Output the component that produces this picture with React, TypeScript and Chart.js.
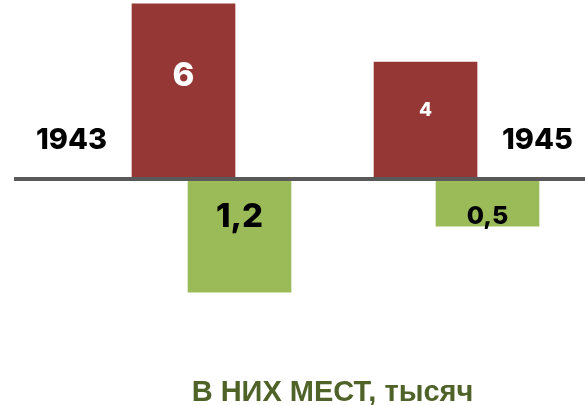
import React, { useEffect, useRef } from 'react';
import { Chart, registerables } from 'chart.js';

Chart.register(...registerables);

// ---- data ----
const years = ['1943', '1945'];
const totalValues = [6, 4];
const placeValues = [1.2, 0.5];
const totalLabels = ['6', '4'];
const placeLabels = ['1,2', '0,5'];
const chartTitle = 'В НИХ МЕСТ, тысяч';

// ---- styles ----
const RED = '#953735';
const GREEN = '#9bbb59';
const AXIS = '#595959';
const TITLE_COLOR = '#4f6228';
const totalFont = [33, 19];
const placeFont = [33, 25];
const DIGIT_FAMILY = 'Inter, "Liberation Sans", Arial, sans-serif';

const annotPlugin = {
  id: 'annot',
  afterDatasetsDraw(chart: any) {
    const ctx = chart.ctx as CanvasRenderingContext2D;
    const area = chart.chartArea;
    const zero = chart.scales.y.getPixelForValue(0);
    ctx.save();
    // baseline axis
    ctx.strokeStyle = AXIS;
    ctx.lineWidth = 4;
    ctx.beginPath();
    ctx.moveTo(area.left, zero);
    ctx.lineTo(area.right, zero);
    ctx.stroke();

    const red = chart.getDatasetMeta(0).data;
    const green = chart.getDatasetMeta(1).data;
    ctx.textBaseline = 'alphabetic';
    ctx.textAlign = 'center';
    red.forEach((bar: any, i: number) => {
      const { x, y, base } = bar.getProps(['x', 'y', 'base'], true);
      const fs = totalFont[i];
      ctx.font = `800 ${fs}px ${DIGIT_FAMILY}`;
      ctx.fillStyle = '#ffffff';
      const cy = y + 0.4 * (base - y);
      ctx.fillText(totalLabels[i], x, cy + 0.36 * fs);
    });
    green.forEach((bar: any, i: number) => {
      const { x, base } = bar.getProps(['x', 'y', 'base'], true);
      const fs = placeFont[i];
      ctx.font = `800 ${fs}px ${DIGIT_FAMILY}`;
      ctx.fillStyle = '#000000';
      const cy = base + 36;
      ctx.fillText(placeLabels[i], x, cy + 0.36 * fs);
    });

    // year labels
    ctx.font = `800 29px ${DIGIT_FAMILY}`;
    ctx.fillStyle = '#000000';
    const b0 = red[0].getProps(['x', 'width'], true);
    const b1 = red[1].getProps(['x', 'width'], true);
    ctx.textAlign = 'right';
    ctx.fillText(years[0], b0.x - b0.width / 2 - 25, zero - 29.5);
    ctx.textAlign = 'left';
    ctx.fillText(years[1], b1.x + b1.width / 2 + 25, zero - 29.5);

    // title
    ctx.font = 'bold 29px "Liberation Sans", Arial, sans-serif';
    ctx.fillStyle = TITLE_COLOR;
    ctx.textAlign = 'center';
    ctx.fillText(chartTitle, chart.width / 2 + 40, chart.height - 4);
    ctx.restore();
  },
};

export default function App() {
  const ref = useRef<HTMLCanvasElement | null>(null);
  useEffect(() => {
    if (!ref.current) return;
    const chart = new Chart(ref.current, {
      type: 'bar',
      data: {
        datasets: [
          {
            label: 'total',
            data: years.map((_, i) => ({ x: i, y: totalValues[i] })),
            backgroundColor: RED,
            xAxisID: 'x',
            yAxisID: 'y',
            barThickness: 103,
            grouped: false,
          },
          {
            label: 'places',
            data: years.map((_, i) => ({ x: i, y: placeValues[i] })),
            backgroundColor: GREEN,
            xAxisID: 'x2',
            yAxisID: 'y2',
            barThickness: 103,
            grouped: false,
          },
        ],
      } as any,
      options: {
        animation: false,
        responsive: true,
        maintainAspectRatio: false,
        layout: { padding: { left: 14, right: 0, top: 0, bottom: 0 } },
        plugins: {
          legend: { display: false },
          tooltip: { enabled: false },
          title: { display: false },
        },
        scales: {
          x: { type: 'linear', display: false, offset: false, min: -0.7004, max: 1.659 },
          x2: { type: 'linear', display: false, offset: false, min: -0.9093, max: 1.3931 },
          y: { type: 'linear', display: false, min: -7.74, max: 6.13 },
          y2: { type: 'linear', display: false, reverse: true, min: -1.896, max: 2.394 },
        },
      } as any,
      plugins: [annotPlugin],
    });
    return () => chart.destroy();
  }, []);
  return (
    <div style={{ position: 'fixed', left: 0, top: 0, width: 585, height: 405, background: '#fff' }}>
      <canvas ref={ref} />
    </div>
  );
}
